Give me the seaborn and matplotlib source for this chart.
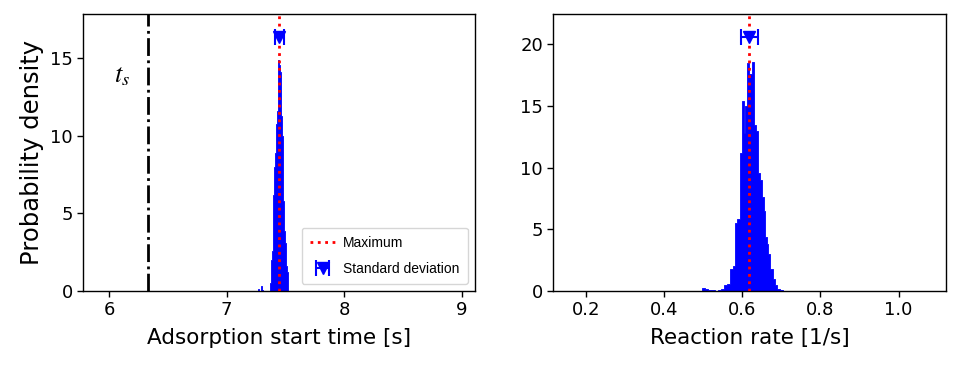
import numpy as np
import pandas as pd
import matplotlib
matplotlib.use("Agg")
import matplotlib.pyplot as plt
import seaborn as sns

# ---- data ----
t_edges = [7.270, 7.278, 7.286, 7.294, 7.302, 7.310, 7.370, 7.377, 7.384, 7.391, 7.398,
           7.405, 7.412, 7.420, 7.427, 7.434, 7.441, 7.448, 7.455, 7.462, 7.469,
           7.476, 7.484, 7.491, 7.498, 7.505, 7.515, 7.525]
t_density = [0.15, 0.0, 0.0, 0.35, 0.05, 0.0, 0.5, 2.0, 2.6, 5.3, 6.2, 8.0, 8.9, 10.8,
             11.6, 13.8, 14.9, 14.6, 14.1, 11.3, 10.0, 7.2, 5.8, 3.9, 3.1, 1.6, 1.2]
t_max = 7.448
t_std = 0.04
t_marker_y = 16.4
t_s = 6.327

k_edges = [0.497, 0.505, 0.513, 0.521, 0.529, 0.537, 0.545, 0.553, 0.561, 0.569, 0.575,
           0.581, 0.587, 0.593, 0.599, 0.605, 0.608, 0.613, 0.618, 0.624, 0.630, 0.636,
           0.641, 0.646, 0.650, 0.655, 0.659, 0.663, 0.667, 0.672, 0.678, 0.684, 0.690,
           0.697, 0.705]
k_density = [0.25, 0.2, 0.1, 0.05, 0.0, 0.05, 0.2, 0.5, 0.6, 1.8, 2.0, 5.5, 5.8, 11.2,
             15.4, 12.8, 15.0, 18.5, 17.6, 18.6, 13.5, 13.0, 9.6, 9.0, 7.6, 6.5, 4.4,
             3.8, 3.0, 1.8, 1.0, 0.5, 0.2, 0.05]
k_max = 0.618
k_std = 0.022
k_marker_y = 20.6

sns.set_style("ticks")
plt.rcParams["mathtext.fontset"] = "stix"
plt.rcParams["font.family"] = ["DejaVu Sans"]
for key in ["text.color", "axes.labelcolor", "xtick.color", "ytick.color", "axes.edgecolor"]:
    plt.rcParams[key] = "black"

fig = plt.figure(figsize=(9.72, 3.66), dpi=100)
ax1 = fig.add_axes([0.0857, 0.205, 0.4030, 0.758])
ax2 = fig.add_axes([0.5693, 0.205, 0.4037, 0.758])


def draw(ax, edges, dens, xmax, xstd, my):
    edges = [float(e) for e in edges]
    centers = [(a + b) / 2 for a, b in zip(edges[:-1], edges[1:])]
    df = pd.DataFrame({"x": centers, "w": [float(d) for d in dens]})
    sns.histplot(data=df, x="x", weights="w", bins=edges, element="step", fill=True,
                 color="blue", alpha=1.0, linewidth=0.6, edgecolor="blue", ax=ax)
    ax.axvline(xmax, color="red", ls=":", lw=2, label="Maximum", zorder=3)
    ax.errorbar([xmax], [my], xerr=[xstd], fmt="v", color="blue", ms=8,
                capsize=6, elinewidth=1.5, capthick=1.5, label="Standard deviation",
                zorder=4)
    for s in ax.spines.values():
        s.set_color("black")
        s.set_linewidth(1.0)
    ax.tick_params(labelsize=13, colors="black", length=4, width=1)


draw(ax1, t_edges, t_density, t_max, t_std, t_marker_y)
ax1.axvline(t_s, color="black", ls="-.", lw=2)
ax1.text(6.11, 13.9, r"$t_s$", fontsize=19, ha="center", va="center")
ax1.set_xlim(5.78, 9.115)
ax1.set_ylim(0, 17.9)
ax1.set_xticks([6, 7, 8, 9])
ax1.set_yticks([0, 5, 10, 15])
ax1.set_xlabel("Adsorption start time [s]", fontsize=15.5, labelpad=6)
ax1.set_ylabel("Probability density", fontsize=17.5)
ax1.legend(loc="lower right", prop={"family": "Liberation Sans", "size": 10},
           frameon=True, fancybox=True, framealpha=0.8, edgecolor="#cccccc",
           labelspacing=0.85, borderpad=0.6, handlelength=1.8, handletextpad=0.6,
           borderaxespad=0.5)

draw(ax2, k_edges, k_density, k_max, k_std, k_marker_y)
ax2.set_xlim(0.116, 1.121)
ax2.set_ylim(0, 22.5)
ax2.set_xticks([0.2, 0.4, 0.6, 0.8, 1.0])
ax2.set_yticks([0, 5, 10, 15, 20])
ax2.set_xlabel("Reaction rate [1/s]", fontsize=15.5, labelpad=6)
ax2.set_ylabel("")

fig.savefig("out.png", dpi=100)
